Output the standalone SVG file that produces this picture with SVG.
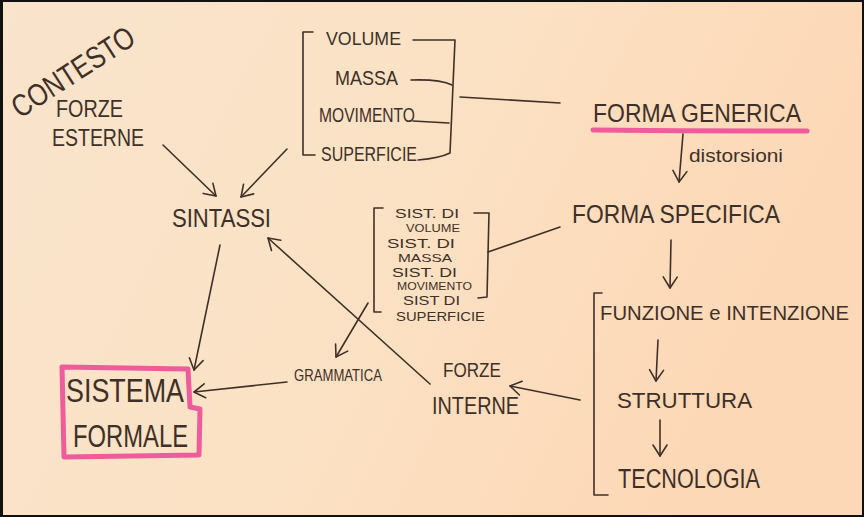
<svg xmlns="http://www.w3.org/2000/svg" width="864" height="517" viewBox="0 0 864 517">
<defs>
<linearGradient id="bg" x1="0" y1="0" x2="1" y2="0.3">
<stop offset="0" stop-color="#f9e4cc"/>
<stop offset="0.5" stop-color="#fbe2c5"/>
<stop offset="1" stop-color="#fdd8b6"/>
</linearGradient>
<marker id="ah" markerUnits="userSpaceOnUse" markerWidth="16" markerHeight="16" refX="12" refY="7" orient="auto" overflow="visible">
<path d="M1,0 L12,7 L1,14" fill="none" stroke="#3f3027" stroke-width="1.6" stroke-linecap="round" stroke-linejoin="round"/>
</marker>
<style>
text{font-family:"Liberation Sans","DejaVu Sans",sans-serif;fill:#3f3027;}
.ln{fill:none;stroke:#3f3027;stroke-width:1.6;stroke-linecap:round;stroke-linejoin:round;}
.ar{fill:none;stroke:#3f3027;stroke-width:1.6;stroke-linecap:round;marker-end:url(#ah);}
.pk{fill:none;stroke:#ee5c9c;stroke-width:5;stroke-linejoin:round;stroke-linecap:round;}
</style>
</defs>
<rect x="0" y="0" width="864" height="517" fill="#111"/>
<rect x="3" y="2" width="859" height="513" fill="url(#bg)"/>

<g id="contesto">
<text x="0" y="0" font-size="31" textLength="140" lengthAdjust="spacingAndGlyphs" transform="translate(20,119) rotate(-33)">CONTESTO</text>
</g>
<g id="forze-esterne">
<text x="56" y="117" font-size="23" textLength="67" lengthAdjust="spacingAndGlyphs">FORZE</text>
<text x="52" y="146" font-size="23" textLength="92" lengthAdjust="spacingAndGlyphs">ESTERNE</text>
</g>
<g id="sintassi">
<text x="172" y="227" font-size="26" textLength="99" lengthAdjust="spacingAndGlyphs">SINTASSI</text>
</g>
<g id="elementi">
<path class="ln" d="M313,32 L303,32 L303,155 L315,155"/>
<text x="326" y="45" font-size="19" textLength="75" lengthAdjust="spacingAndGlyphs">VOLUME</text>
<text x="335" y="85" font-size="21" textLength="63" lengthAdjust="spacingAndGlyphs">MASSA</text>
<text x="319" y="122" font-size="20" textLength="96" lengthAdjust="spacingAndGlyphs">MOVIMENTO</text>
<text x="321" y="161" font-size="20" textLength="96" lengthAdjust="spacingAndGlyphs">SUPERFICIE</text>
<path class="ln" d="M413,40 L455,40 L450,153 Q440,158 418,160"/>
<path class="ln" d="M411,80 Q440,79 452,85"/>
<path class="ln" d="M413,121 L449,123"/>
</g>
<g id="forma-generica">
<text x="593" y="122" font-size="26" textLength="208" lengthAdjust="spacingAndGlyphs">FORMA GENERICA</text>
<path class="pk" d="M593,130 Q700,131 807,131"/>
</g>
<g id="distorsioni">
<text x="689" y="162" font-size="19" textLength="94" lengthAdjust="spacingAndGlyphs">distorsioni</text>
</g>
<g id="forma-specifica">
<text x="572" y="223" font-size="26" textLength="208" lengthAdjust="spacingAndGlyphs">FORMA SPECIFICA</text>
</g>
<g id="sistemi">
<path class="ln" d="M383,208 L374,208 L374,312 L381,312"/>
<path class="ln" d="M474,213 L489,213 L487,297 L478,298"/>
<text x="395" y="218" font-size="13" textLength="64" lengthAdjust="spacingAndGlyphs">SIST. DI</text>
<text x="406" y="232" font-size="11" textLength="54" lengthAdjust="spacingAndGlyphs">VOLUME</text>
<text x="387" y="248" font-size="13" textLength="68" lengthAdjust="spacingAndGlyphs">SIST. DI</text>
<text x="398" y="262" font-size="11" textLength="54" lengthAdjust="spacingAndGlyphs">MASSA</text>
<text x="392" y="277" font-size="13" textLength="65" lengthAdjust="spacingAndGlyphs">SIST. DI</text>
<text x="397" y="290" font-size="11" textLength="75" lengthAdjust="spacingAndGlyphs">MOVIMENTO</text>
<text x="403" y="305" font-size="12" textLength="57" lengthAdjust="spacingAndGlyphs">SIST DI</text>
<text x="396" y="321" font-size="13" textLength="89" lengthAdjust="spacingAndGlyphs">SUPERFICIE</text>
</g>
<g id="grammatica">
<text x="294" y="381" font-size="16" textLength="88" lengthAdjust="spacingAndGlyphs">GRAMMATICA</text>
</g>
<g id="sistema-formale">
<path class="pk" d="M62,367 L188,369 L190,407 L200,409 L199,455 L64,457 Z"/>
<text x="66" y="402" font-size="34" textLength="118" lengthAdjust="spacingAndGlyphs">SISTEMA</text>
<text x="73" y="447" font-size="32" textLength="115" lengthAdjust="spacingAndGlyphs">FORMALE</text>
</g>
<g id="forze-interne">
<text x="443" y="377" font-size="21" textLength="58" lengthAdjust="spacingAndGlyphs">FORZE</text>
<text x="432" y="414" font-size="24" textLength="87" lengthAdjust="spacingAndGlyphs">INTERNE</text>
</g>
<g id="progetto">
<path class="ln" d="M602,293 L594,293 L594,495 L608,495"/>
<text x="600" y="320" font-size="21" textLength="249" lengthAdjust="spacingAndGlyphs">FUNZIONE e INTENZIONE</text>
<text x="617" y="408" font-size="22" textLength="135" lengthAdjust="spacingAndGlyphs">STRUTTURA</text>
<text x="618" y="488" font-size="27" textLength="142" lengthAdjust="spacingAndGlyphs">TECNOLOGIA</text>
</g>

<g id="connectors">
<path class="ar" d="M163,145 L216,196"/>
<path class="ar" d="M287,149 L241,197"/>
<path class="ln" d="M460,97 L560,103"/>
<path class="ar" d="M683,134 L679,182"/>
<path class="ln" d="M488,252 L560,227"/>
<path class="ar" d="M671,240 L670,288"/>
<path class="ar" d="M658,340 L656,381"/>
<path class="ar" d="M660,420 L660,456"/>
<path class="ar" d="M580,400 L510,386"/>
<path class="ar" d="M430,384 L268,238"/>
<path class="ar" d="M368,303 L336,357"/>
<path class="ar" d="M287,382 L194,392"/>
<path class="ar" d="M220,245 L194,370"/>
</g>
</svg>
